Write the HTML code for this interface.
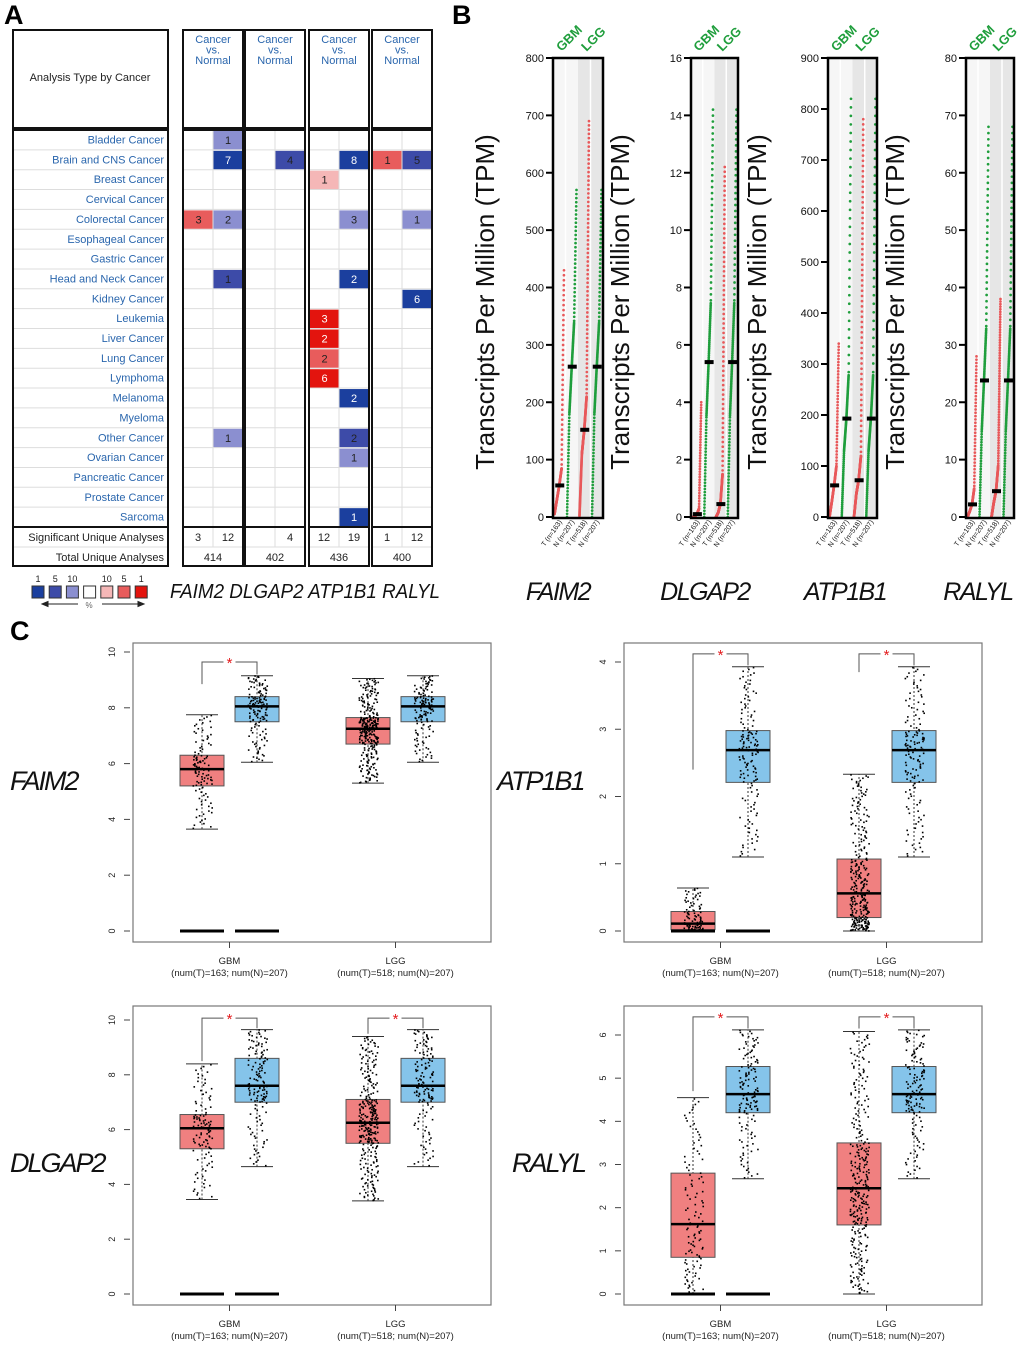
<!DOCTYPE html>
<html><head><meta charset="utf-8"><style>
html,body{margin:0;padding:0;background:#fff;}
svg{display:block;}
</style></head><body>
<svg id="fig" width="1020" height="1345" xmlns="http://www.w3.org/2000/svg" font-family="'Liberation Sans', sans-serif"></svg>
<script>
// ---------- Panel A data ----------
const cancerTypes=['Bladder Cancer','Brain and CNS Cancer','Breast Cancer','Cervical Cancer','Colorectal Cancer','Esophageal Cancer','Gastric Cancer','Head and Neck Cancer','Kidney Cancer','Leukemia','Liver Cancer','Lung Cancer','Lymphoma','Melanoma','Myeloma','Other Cancer','Ovarian Cancer','Pancreatic Cancer','Prostate Cancer','Sarcoma'];
const cellRows=[0,1,1,1,1,1,2,4,4,4,4,7,7,8,9,10,11,12,13,15,15,16,19];
const cellCols=[1,1,3,5,6,7,4,0,1,5,7,1,5,7,4,4,4,4,5,1,5,5,5];
const cellCounts=[1,7,4,8,1,5,1,3,2,3,1,1,2,6,3,2,2,6,2,1,2,1,1];
const cellLevels=[2,0,1,0,5,1,4,5,2,2,2,1,0,0,6,6,5,6,0,2,1,2,0];
const sigCounts=['3','12','','4','12','19','1','12'];
const totalCounts=['414','402','436','400'];
const legendNums=['1','5','10','','10','5','1'];
// ---------- Panel B data ----------
const bGenes=['FAIM2','DLGAP2','ATP1B1','RALYL'];
const bYMax=[800,16,900,80];
const bYStep=[100,2,100,10];
const bTumorGBM=[[5,30,55,85,430],[0,0.02,0.1,0.3,4],[0,30,62,100,340],[0,1,2.2,5,28]];
const bNormalGBM=[[0,180,262,340,570],[0,3.5,5.4,7.5,14.2],[0,130,193,280,820],[0,15,23.8,33,68]];
const bTumorLGG=[[2,110,152,210,690],[0,0.15,0.45,1.5,12.2],[0,45,72,120,780],[0,2.5,4.5,9,38]];
const bNormalLGG=[[0,180,262,340,570],[0,3.5,5.4,7.5,14.2],[0,130,193,280,820],[0,15,23.8,33,68]];
const bXLabels=['T (n=163)','N (n=207)','T (n=518)','N (n=207)'];
// ---------- Panel C data ----------
const cGenes=['FAIM2','ATP1B1','DLGAP2','RALYL'];
const cTickMax=[10,4,10,6];
const cTickStep=[2,1,2,1];
const cGbmTumor=[[3.65,5.2,5.8,6.3,7.75],[0,0.02,0.11,0.29,0.64],[3.45,5.3,6.05,6.55,8.4],[0,0.85,1.62,2.8,4.55]];
const cGbmNormal=[[6.05,7.5,8.05,8.4,9.15],[1.1,2.21,2.69,2.98,3.93],[4.65,7.0,7.6,8.6,9.65],[2.67,4.2,4.63,5.27,6.12]];
const cLggTumor=[[5.3,6.7,7.25,7.65,9.05],[0,0.2,0.56,1.07,2.33],[3.4,5.5,6.25,7.1,9.4],[0,1.6,2.45,3.5,6.08]];
const cLggNormal=[[6.05,7.5,8.05,8.4,9.15],[1.1,2.21,2.69,2.98,3.93],[4.65,7.0,7.6,8.6,9.65],[2.67,4.2,4.63,5.27,6.12]];
const cBracketTop=[9.64,4.12,10.07,6.42];
const cGbmBracketLegs=[[8.85,9.2],[2.4,3.95],[8.5,9.7],[4.7,6.15]];
const cLggBracketLegs=[null,[3.85,3.95],[9.5,9.7],[6.15,6.15]];
const cGroups=['GBM','LGG'];
const cGroupSub=['(num(T)=163; num(N)=207)','(num(T)=518; num(N)=207)'];

const NS='http://www.w3.org/2000/svg';
const svg=document.getElementById('fig');
function mk(tag,attrs,parent,name){
  const el=document.createElementNS(NS,tag);
  for(const k in attrs) el.setAttribute(k,attrs[k]);
  
  
  (parent||svg).appendChild(el);
  return el;
}
function txt(x,y,s,attrs,parent,name){const t=mk('text',Object.assign({x:x,y:y},attrs),parent,name);t.textContent=s;return t;}
function quant(r,a){const seg=Math.min(3,Math.floor(r*4));const f=r*4-seg;return a[seg]+(a[seg+1]-a[seg])*f;}
function hash(i,k){const v=Math.sin(i*12.9898+k*78.233)*43758.5453;return v-Math.floor(v);}

// ---------- Panel labels ----------
txt(4,24,'A',{'font-size':27,'font-weight':'bold'},svg,'panel-a-label');
txt(452,24,'B',{'font-size':27,'font-weight':'bold'},svg,'panel-b-label');
txt(10,640,'C',{'font-size':27,'font-weight':'bold'},svg,'panel-c-label');

// ---------- Panel A ----------
const gA=mk('g',{},svg,'oncomine-table');
const levelColors=['#1b3f9e','#3d4ba8','#8b8fd0','#ffffff','#f5b7b7','#e85c5c','#e3140e'];
const textOnLevel=['#fff','#222','#222','#222','#222','#222','#fff'];
const rowTop=130,rowH=19.85;
const groupX=[183,245,309,372],groupW=60;
const blue='#2a66ad';
mk('rect',{x:13,y:30,width:155,height:98,fill:'none',stroke:'#111','stroke-width':2},gA,'table-header-box');
txt(90,81,'Analysis Type by Cancer',{'font-size':11,'text-anchor':'middle',fill:'#222'},gA,'table-header-title');
mk('rect',{x:13,y:130,width:155,height:436,fill:'none',stroke:'#111','stroke-width':2},gA,'row-label-box');
for(let i=0;i<20;i++){
  const y=rowTop+i*rowH;
  if(i>0) mk('line',{x1:14,x2:167,y1:y,y2:y,stroke:'#ddd','stroke-width':1},gA,'row-gridline');
  txt(164,y+13.5,cancerTypes[i],{'font-size':11,'text-anchor':'end',fill:blue},gA,'cancer-type-label');
}
mk('line',{x1:13,x2:168,y1:527,y2:527,stroke:'#111','stroke-width':2},gA,'summary-divider');
mk('line',{x1:14,x2:167,y1:547,y2:547,stroke:'#ddd'},gA,'summary-gridline');
txt(164,541,'Significant Unique Analyses',{'font-size':11,'text-anchor':'end',fill:'#222'},gA,'significant-label');
txt(164,561,'Total Unique Analyses',{'font-size':11,'text-anchor':'end',fill:'#222'},gA,'total-label');
for(let g=0;g<4;g++){
  const x=groupX[g];
  mk('rect',{x:x,y:30,width:groupW,height:98,fill:'none',stroke:'#111','stroke-width':2},gA,'group-header-box');
  ['Cancer','vs.','Normal'].forEach((s,k)=>txt(x+30,43+k*10.5,s,{'font-size':11,'text-anchor':'middle',fill:blue},gA,'group-header-text'));
  for(let i=1;i<20;i++){const y=rowTop+i*rowH;mk('line',{x1:x,x2:x+groupW,y1:y,y2:y,stroke:'#ddd'},gA,'cell-gridline');}
  mk('line',{x1:x+30,x2:x+30,y1:130,y2:547,stroke:'#ddd'},gA,'cell-divider');
  mk('line',{x1:x,x2:x+groupW,y1:547,y2:547,stroke:'#ddd'},gA,'summary-gridline');
  txt(x+15,541,sigCounts[g*2],{'font-size':11,'text-anchor':'middle',fill:'#222'},gA,'significant-count');
  txt(x+45,541,sigCounts[g*2+1],{'font-size':11,'text-anchor':'middle',fill:'#222'},gA,'significant-count');
  txt(x+30,561,totalCounts[g],{'font-size':11,'text-anchor':'middle',fill:'#222'},gA,'total-count');
}
for(let c=0;c<cellRows.length;c++){
  const g=Math.floor(cellCols[c]/2),h=cellCols[c]%2;
  const x=groupX[g]+1+h*29.5,y=rowTop+cellRows[c]*rowH+1;
  mk('rect',{x:x,y:y,width:28.5,height:rowH-1.5,fill:levelColors[cellLevels[c]]},gA,'heat-cell');
  txt(x+14.5,y+13,String(cellCounts[c]),{'font-size':11,'text-anchor':'middle',fill:textOnLevel[cellLevels[c]]},gA,'heat-cell-count');
}
for(let g=0;g<4;g++){
  mk('rect',{x:groupX[g],y:130,width:groupW,height:436,fill:'none',stroke:'#111','stroke-width':2},gA,'group-body-box');
  mk('line',{x1:groupX[g],x2:groupX[g]+groupW,y1:527,y2:527,stroke:'#111','stroke-width':2},gA,'group-summary-divider');
}
// legend
const gL=mk('g',{},svg,'color-legend');
for(let k=0;k<7;k++){
  const x=32+k*17.2;
  mk('rect',{x:x,y:586,width:12,height:12,fill:levelColors[k],stroke:'#333','stroke-width':1},gL,'legend-swatch');
  txt(x+6,582,legendNums[k],{'font-size':9,'text-anchor':'middle',fill:'#222'},gL,'legend-number');
}
mk('path',{d:'M78 604 H42 M42 604 l6 -2.5 v5 z',stroke:'#222',fill:'#222','stroke-width':1},gL,'legend-arrow-left');
mk('path',{d:'M102 604 H144 M144 604 l-6 -2.5 v5 z',stroke:'#222',fill:'#222','stroke-width':1},gL,'legend-arrow-right');
txt(89,608,'%',{'font-size':8,'text-anchor':'middle',fill:'#666'},gL,'legend-percent');
txt(170,598,'FAIM2 DLGAP2 ATP1B1 RALYL',{'font-size':20,'font-style':'italic',textLength:270,lengthAdjust:'spacingAndGlyphs',fill:'#111'},svg,'panel-a-gene-order');

// ---------- Panel B ----------
const bFrameL=[553,691,828,966],bFrameR=[603,738,877,1014];
const bTitleX=[485,620,757,895];
const bTop=58,bBot=517;
for(let p=0;p<4;p++){
  const g=mk('g',{},svg,'tpm-dotplot-'+bGenes[p].toLowerCase());
  const L=bFrameL[p],R=bFrameR[p],W=R-L;
  const yS=v=>bBot-v/bYMax[p]*(bBot-bTop);
  mk('rect',{x:L,y:bTop,width:W/2,height:bBot-bTop+1,fill:'#f6f6f6'},g,'gbm-background');
  mk('rect',{x:L+W/2,y:bTop,width:W/2,height:bBot-bTop+1,fill:'#e6e6e6'},g,'lgg-background');
  [0.25,0.75].forEach(f=>mk('line',{x1:L+W*f,x2:L+W*f,y1:bTop,y2:bBot,stroke:'#fff','stroke-width':1.5},g,'column-separator'));
  const cols=[bTumorGBM[p],bNormalGBM[p],bTumorLGG[p],bNormalLGG[p]];
  const colors=['#e8585a','#1f9e3c','#e8585a','#1f9e3c'];
  const nPts=[160,130,260,130];
  for(let c=0;c<4;c++){
    const cl=L+c*W/4,cw=W/4;
    for(let i=0;i<nPts[c];i++){
      const r=i/(nPts[c]-1);
      const v=quant(r,cols[c]);
      mk('circle',{cx:cl+1.5+r*(cw-3),cy:yS(v),r:1.35,fill:colors[c]},g,'tpm-dot');
    }
    mk('rect',{x:cl+cw/2-4,y:yS(cols[c][2])-2,width:9,height:4,fill:'#000'},g,'median-bar');
  }
  mk('rect',{x:L,y:bTop,width:W,height:bBot-bTop+1,fill:'none',stroke:'#000','stroke-width':2.5},g,'plot-frame');
  for(let v=0;v<=bYMax[p]+1e-9;v+=bYStep[p]){
    const y=yS(v);
    mk('line',{x1:L-7,x2:L,y1:y,y2:y,stroke:'#000','stroke-width':2},g,'y-tick');
    txt(L-9,y+4,String(v),{'font-size':11,'text-anchor':'end',fill:'#111'},g,'y-tick-label');
  }
  txt(bTitleX[p],302,'Transcripts Per Million (TPM)',{'font-size':26,'text-anchor':'middle',transform:`rotate(-90 ${bTitleX[p]} 302)`,dy:9,fill:'#111'},g,'y-axis-title');
  ['GBM','LGG'].forEach((s,k)=>{const x=L+W*(0.25+k*0.5)-4,y=52;txt(x,y,s,{'font-size':13,'font-weight':'bold',fill:'#1f9e3c',transform:`rotate(-45 ${x} ${y})`},g,'cohort-label');});
  for(let c=0;c<4;c++){const x=L+W*(c+0.5)/4+3,y=522;txt(x,y,bXLabels[c],{'font-size':7,'text-anchor':'end',fill:'#111',transform:`rotate(-55 ${x} ${y})`},g,'x-sample-label');}
}
const bGeneX=[558,705,845,978];
for(let p=0;p<4;p++) txt(bGeneX[p],600,bGenes[p],{'font-size':25,'font-style':'italic','text-anchor':'middle','letter-spacing':-1.5,fill:'#111'},svg,'panel-b-gene-label');

// ---------- Panel C ----------
const cFrames=[[133,643],[624,643],[133,1006],[624,1006]];
const cTopOffset=[9,19,14,29];
const cGeneLabelX=[10,497,10,512],cGeneLabelY=[790,790,1172,1172];
const cW=358,cH=299;
for(let p=0;p<4;p++){
  const g=mk('g',{},svg,'boxplot-'+cGenes[p].toLowerCase());
  const L=cFrames[p][0],T=cFrames[p][1];
  const y0=T+288,yTop=T+cTopOffset[p];
  const yS=v=>y0-v/cTickMax[p]*(y0-yTop);
  const centers=[L+69,L+124,L+235,L+290];
  const stats=[cGbmTumor[p],cGbmNormal[p],cLggTumor[p],cLggNormal[p]];
  const fills=['#f08080','#85c4ea','#f08080','#85c4ea'];
  const nPts=[110,140,300,140];
  const zeroLine=[1,1,0,0];
  for(let b=0;b<4;b++){
    const s=stats[b],cx=centers[b];
    mk('line',{x1:cx,x2:cx,y1:yS(s[0]),y2:yS(s[4]),stroke:'#333','stroke-dasharray':'2,2'},g,'whisker');
    mk('line',{x1:cx-16,x2:cx+16,y1:yS(s[0]),y2:yS(s[0]),stroke:'#333'},g,'whisker-cap-low');
    mk('line',{x1:cx-16,x2:cx+16,y1:yS(s[4]),y2:yS(s[4]),stroke:'#333'},g,'whisker-cap-high');
    mk('rect',{x:cx-22,y:yS(s[3]),width:44,height:yS(s[1])-yS(s[3]),fill:fills[b],stroke:'#555'},g,'box');
    mk('line',{x1:cx-22,x2:cx+22,y1:yS(s[2]),y2:yS(s[2]),stroke:'#000','stroke-width':2.5},g,'median-line');
    for(let i=0;i<nPts[b];i++){
      const v=quant((i+0.5)/nPts[b],s);
      mk('rect',{x:cx+(hash(i,b+p*4)-0.5)*19,y:yS(v)-0.8,width:1.6,height:1.6,fill:'#000'},g,'jitter-point');
    }
    if(zeroLine[b]) mk('rect',{x:cx-22,y:y0-1.5,width:44,height:3,fill:'#000'},g,'zero-line');
  }
  const legsList=[cGbmBracketLegs[p],cLggBracketLegs[p]];
  for(let k=0;k<2;k++){
    const legs=legsList[k]; if(!legs) continue;
    const a=centers[k*2],b=centers[k*2+1],yb=yS(cBracketTop[p]),mid=(a+b)/2;
    mk('path',{d:`M${a} ${yS(legs[0])} V${yb} H${mid-6} M${mid+6} ${yb} H${b} V${yS(legs[1])}`,fill:'none',stroke:'#555'},g,'significance-bracket');
    txt(mid,yb+6,'*',{'font-size':15,'text-anchor':'middle',fill:'#e31a1c'},g,'significance-star');
  }
  mk('rect',{x:L,y:T,width:cW,height:cH,fill:'none',stroke:'#777','stroke-width':1.2},g,'plot-frame');
  for(let v=0;v<=cTickMax[p]+1e-9;v+=cTickStep[p]){
    const y=yS(v);
    mk('line',{x1:L-9,x2:L-3,y1:y,y2:y,stroke:'#444'},g,'y-tick');
    txt(L-18,y,String(v),{'font-size':9,'text-anchor':'middle',fill:'#222',transform:`rotate(-90 ${L-18} ${y})`},g,'y-tick-label');
  }
  for(let k=0;k<2;k++){
    const gx=(centers[k*2]+centers[k*2+1])/2;
    mk('line',{x1:gx,x2:gx,y1:T+cH,y2:T+cH+6,stroke:'#444'},g,'x-tick');
    txt(gx,T+cH+22,cGroups[k],{'font-size':9.5,'text-anchor':'middle',fill:'#222'},g,'x-group-label');
    txt(gx,T+cH+34,cGroupSub[k],{'font-size':9.5,'text-anchor':'middle',fill:'#222'},g,'x-group-sample-size');
  }
  txt(cGeneLabelX[p],cGeneLabelY[p],cGenes[p],{'font-size':27,'font-style':'italic','letter-spacing':-2,fill:'#111'},svg,'panel-c-gene-label');
}
</script>
</body></html>
